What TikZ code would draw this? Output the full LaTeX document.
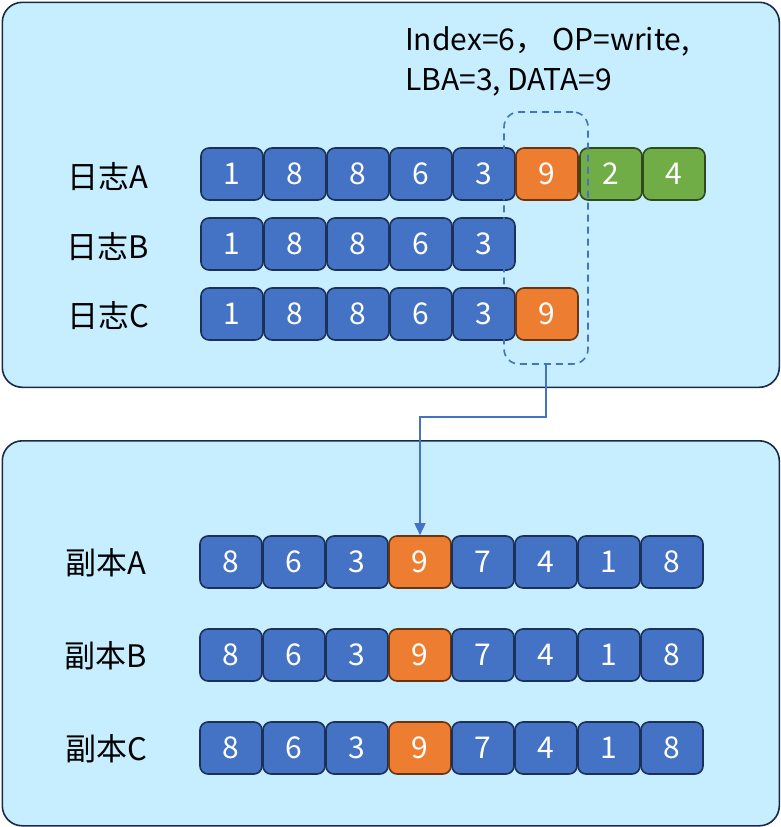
\documentclass[tikz,border=0pt]{standalone}
\usepackage{fontspec}
\setmainfont{Noto Sans CJK SC}
\usetikzlibrary{arrows.meta}
\definecolor{panelfill}{HTML}{C6EEFF}
\definecolor{panelline}{HTML}{1B2A4A}
\definecolor{cblue}{HTML}{4472C4}
\definecolor{cblueline}{HTML}{1C3158}
\definecolor{corange}{HTML}{ED7D31}
\definecolor{corangeline}{HTML}{6B3410}
\definecolor{cgreen}{HTML}{70AD47}
\definecolor{cgreenline}{HTML}{2F4A1E}
\definecolor{arrowblue}{HTML}{4472C4}
\tikzset{
  panel/.style={draw=panelline, line width=1.6pt, fill=panelfill, rounded corners=20pt},
  cell/.style={draw, line width=1.6pt, rounded corners=8pt, minimum width=62pt, minimum height=52pt, inner sep=0pt, text=white, font=\fontsize{30}{34}\selectfont},
  bluecell/.style={cell, fill=cblue, draw=cblueline},
  orangecell/.style={cell, fill=corange, draw=corangeline},
  greencell/.style={cell, fill=cgreen, draw=cgreenline},
  rowlabel/.style={font=\fontsize{31}{34}\selectfont, inner sep=0pt},
  infotext/.style={font=\fontsize{30}{34}\selectfont, anchor=base west, inner sep=0pt},
  dashbox/.style={draw=arrowblue, line width=1.6pt, dash pattern=on 7pt off 5pt, rounded corners=15pt, minimum width=84pt, minimum height=252pt, inner sep=0pt},
  link/.style={draw=arrowblue, line width=1.6pt, -{Triangle[length=12pt,width=11pt]}}
}
\begin{document}
\begin{tikzpicture}[x=1pt,y=-1pt]
\useasboundingbox (0,0) rectangle (780,827);
\node[panel, minimum width=777pt, minimum height=385pt, anchor=north west] (top) at (1.5,1.5) {};
\node[panel, minimum width=777pt, minimum height=385pt, anchor=north west] (bot) at (1.5,440) {};

\node[infotext] (info1) at (405,50) {Index=6，\ OP=write,};
\node[infotext] (info2) at (405,90) {LBA=3,\hspace{6pt}DATA=9};

% log rows
\node[rowlabel] (lA) at (108,177) {日志A};
\node[rowlabel] (lB) at (108,247) {日志B};
\node[rowlabel] (lC) at (108,316) {日志C};

\foreach \v [count=\i] in {1,8,8,6,3}{
  \node[bluecell] (a\i) at ({232+63*(\i-1)},174) {\v};
  \node[bluecell] (b\i) at ({232+63*(\i-1)},244) {\v};
  \node[bluecell] (c\i) at ({232+63*(\i-1)},314) {\v};
}
\node[orangecell] (a6) at (547,174) {9};
\node[greencell] (a7) at (611,174) {2};
\node[greencell] (a8) at (674,174) {4};
\node[orangecell] (c6) at (547,314) {9};

\node[dashbox] (dbox) at (546,238) {};

% replica rows
\node[rowlabel] (rAl) at (106,563) {副本A};
\node[rowlabel] (rBl) at (106,656) {副本B};
\node[rowlabel] (rCl) at (106,749) {副本C};
\foreach \v [count=\i] in {8,6,3,9,7,4,1,8}{
  \ifnum\i=4
    \node[orangecell] (ra\i) at ({231+63*(\i-1)},562) {\v};
    \node[orangecell] (rb\i) at ({231+63*(\i-1)},655) {\v};
    \node[orangecell] (rc\i) at ({231+63*(\i-1)},748) {\v};
  \else
    \node[bluecell] (ra\i) at ({231+63*(\i-1)},562) {\v};
    \node[bluecell] (rb\i) at ({231+63*(\i-1)},655) {\v};
    \node[bluecell] (rc\i) at ({231+63*(\i-1)},748) {\v};
  \fi
}

\draw[link] (dbox.south) -- ++(0,52) -| (ra4.north);
\end{tikzpicture}
\end{document}
